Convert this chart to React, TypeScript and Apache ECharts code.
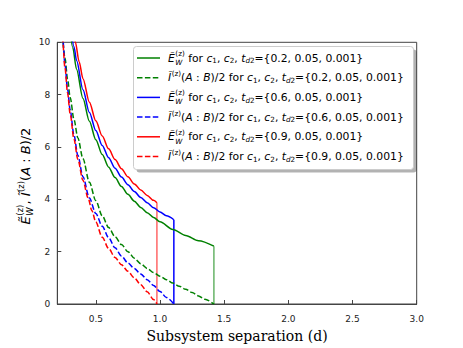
import React, { useEffect, useRef } from 'react';
import * as echarts from 'echarts';

// ---------- data ----------
const xTicks = [0.5, 1.0, 1.5, 2.0, 2.5, 3.0];
const yTicks = [0, 2, 4, 6, 8, 10];
const paramLabels = ['0.2', '0.6', '0.9'];
const colors = ['#008000', '#0000ff', '#ff0000'];

// solid curves: E_W^(z)
const ewC02 = [[0.30, 10.47], [0.32, 9.81], [0.35, 8.97], [0.40, 7.85], [0.45, 6.98], [0.50, 6.28], [0.55, 5.71], [0.60, 5.23], [0.65, 4.83], [0.70, 4.49], [0.75, 4.19], [0.80, 3.93], [0.85, 3.69], [0.90, 3.49], [0.95, 3.31], [1.00, 3.14], [1.10, 2.85], [1.20, 2.62], [1.30, 2.42], [1.42, 2.21]];
const ewC06 = [[0.31, 10.44], [0.33, 9.83], [0.35, 9.30], [0.40, 8.19], [0.45, 7.32], [0.50, 6.63], [0.55, 6.06], [0.60, 5.59], [0.65, 5.19], [0.70, 4.85], [0.75, 4.56], [0.80, 4.30], [0.85, 4.07], [0.90, 3.87], [0.95, 3.68], [1.00, 3.52], [1.05, 3.37], [1.108, 3.22]];
const ewC09 = [[0.32, 10.61], [0.34, 10.02], [0.37, 9.26], [0.40, 8.61], [0.45, 7.71], [0.50, 7.00], [0.55, 6.42], [0.60, 5.93], [0.65, 5.52], [0.70, 5.17], [0.75, 4.86], [0.80, 4.59], [0.85, 4.36], [0.90, 4.15], [0.95, 3.96], [0.976, 3.87]];

// dashed curves: I^(z)(A:B)/2
const iC02 = [[0.24, 10.3], [0.26, 9.4], [0.28, 8.6], [0.30, 7.9], [0.33, 7.05], [0.36, 6.35], [0.40, 5.55], [0.45, 4.65], [0.50, 3.95], [0.55, 3.37], [0.60, 2.92], [0.65, 2.57], [0.70, 2.27], [0.75, 2.0], [0.80, 1.75], [0.85, 1.54], [0.90, 1.36], [0.95, 1.2], [1.00, 1.06], [1.05, 0.93], [1.10, 0.8], [1.15, 0.68], [1.20, 0.56], [1.25, 0.44], [1.30, 0.31], [1.35, 0.18], [1.42, 0.0]];
const iC06 = [[0.235, 10.6], [0.24, 10.3], [0.26, 9.15], [0.28, 8.2], [0.30, 7.42], [0.33, 6.45], [0.36, 5.68], [0.40, 4.86], [0.45, 4.05], [0.50, 3.46], [0.55, 2.97], [0.60, 2.53], [0.65, 2.15], [0.70, 1.83], [0.75, 1.57], [0.80, 1.36], [0.85, 1.15], [0.90, 0.93], [0.95, 0.71], [1.00, 0.48], [1.05, 0.25], [1.108, 0.0]];
const iC09 = [[0.235, 10.5], [0.24, 10.16], [0.26, 9.01], [0.28, 8.06], [0.30, 7.27], [0.33, 6.30], [0.36, 5.53], [0.40, 4.72], [0.44, 4.05], [0.47, 3.56], [0.50, 3.13], [0.55, 2.55], [0.60, 2.12], [0.65, 1.78], [0.70, 1.50], [0.75, 1.25], [0.80, 1.00], [0.85, 0.74], [0.90, 0.47], [0.95, 0.17], [0.976, 0.0]];

const solidSets = [ewC02, ewC06, ewC09];
const dashedSets = [iC02, iC06, iC09];

// ---------- text helpers ----------
const SANS = 'DejaVu Sans';
let mctx: CanvasRenderingContext2D | null = null;
function measure(t: string, size: number, italic: boolean, family: string) {
  if (!mctx) mctx = document.createElement('canvas').getContext('2d');
  mctx!.font = `${italic ? 'italic ' : ''}${size}px "${family}"`;
  return mctx!.measureText(t).width;
}
type Piece = { t: string; s: number; it?: boolean; dy?: number; stack?: boolean; dx?: number };
function mathPieces(pieces: Piece[], family: string, color: string, x0: number) {
  const children: any[] = [];
  let x = 0;
  let pending = 0;
  for (const p of pieces) {
    x += p.dx || 0;
    const w = measure(p.t, p.s, !!p.it, family);
    children.push({
      type: 'text', x: x + x0, y: p.dy || 0, silent: true,
      style: {
        text: p.t, fontSize: p.s, fontFamily: family, fontStyle: p.it ? 'italic' : 'normal',
        fill: color, textAlign: 'left', verticalAlign: 'middle', textVerticalAlign: 'middle',
      },
    });
    if (p.stack) pending = Math.max(pending, w);
    else { x += Math.max(w, pending); pending = 0; }
  }
  return { children, width: x };
}
const FS = 10.8;
const SS = 7.2;
function tail(p: string): Piece[] {
  return [
    { t: ' for ', s: FS },
    { t: 'c', s: FS, it: true }, { t: '1', s: SS, dy: 2.7 },
    { t: ', ', s: FS },
    { t: 'c', s: FS, it: true }, { t: '2', s: SS, dy: 2.7 },
    { t: ', ', s: FS },
    { t: 't', s: FS, it: true }, { t: 'd', s: SS, it: true, dy: 2.7 }, { t: '2', s: SS, dy: 2.7 },
    { t: '={' + p + ', 0.05, 0.001}', s: FS },
  ];
}
function solidLabel(p: string): Piece[] {
  return [
    { t: 'Ẽ', s: FS, it: true },
    { t: '(z)', s: SS, dy: -4.6, stack: true, dx: 0.5 },
    { t: 'W', s: SS, it: true, dy: 4.4 },
    ...tail(p),
  ];
}
function dashedLabel(p: string): Piece[] {
  return [
    { t: 'Ĩ', s: FS, it: true },
    { t: '(z)', s: SS, dy: -3.8, dx: 0.5 },
    { t: '(', s: FS }, { t: 'A', s: FS, it: true }, { t: ' : ', s: FS }, { t: 'B', s: FS, it: true }, { t: ')/2', s: FS },
    ...tail(p),
  ];
}

const DASH = [5.5, 2.4];

export default function App() {
  const ref = useRef<HTMLDivElement>(null);
  useEffect(() => {
    if (!ref.current) return;
    const chart = echarts.init(ref.current, null, { renderer: 'svg' });

    const series: any[] = [];
    for (let k = 0; k < 3; k++) {
      series.push({
        type: 'line', data: solidSets[k], showSymbol: false, symbol: 'none', smooth: 0.3, smoothMonotone: 'x',
        clip: true, lineStyle: { color: colors[k], width: 1.5, type: 'solid' }, z: 3,
      });
      series.push({
        type: 'line', data: dashedSets[k], showSymbol: false, symbol: 'none', smooth: 0.3, smoothMonotone: 'x',
        clip: true, lineStyle: { color: colors[k], width: 1.5, type: DASH }, z: 3,
      });
      const last = solidSets[k][solidSets[k].length - 1];
      series.push({
        type: 'line', data: [[last[0], last[1]], [last[0], 0]], showSymbol: false, symbol: 'none',
        clip: true, lineStyle: { color: colors[k], width: 1.5, opacity: k === 1 ? 1 : 0.6 }, z: 2,
      });
    }

    // legend drawn as graphic
    const lx = 133.5, ly = 46.5, lw = 280, lh = 123;
    const legendChildren: any[] = [
      { type: 'rect', shape: { x: lx + 3, y: ly + 3, width: lw, height: lh, r: 3 }, style: { fill: 'rgba(0,0,0,0.3)' }, silent: true },
      { type: 'rect', shape: { x: lx, y: ly, width: lw, height: lh, r: 3 }, style: { fill: '#ffffff', stroke: '#cccccc', lineWidth: 1 }, silent: true },
    ];
    for (let k = 0; k < 3; k++) {
      for (let j = 0; j < 2; j++) {
        const row = k * 2 + j;
        const y = 58 + row * 19.7;
        legendChildren.push({
          type: 'line', shape: { x1: 137, y1: y, x2: 160, y2: y }, silent: true,
          style: { stroke: colors[k], lineWidth: 1.5, lineDash: j === 0 ? null : DASH },
        });
        const m = mathPieces(j === 0 ? solidLabel(paramLabels[k]) : dashedLabel(paramLabels[k]), SANS, '#000', 168);
        legendChildren.push({ type: 'group', x: 0, y, children: m.children, silent: true });
      }
    }

    const yl = mathPieces([
      { t: 'Ẽ', s: 13, it: true },
      { t: '(z)', s: 8.5, dy: -5.4, stack: true, dx: 0.5 },
      { t: 'W', s: 8.5, it: true, dy: 5.2 },
      { t: ', ', s: 13 },
      { t: 'Ĩ', s: 13, it: true },
      { t: '(z)', s: 8.5, dy: -4.5, dx: 0.5 },
      { t: '(', s: 13 }, { t: 'A', s: 13, it: true }, { t: ' : ', s: 13 }, { t: 'B', s: 13, it: true }, { t: ')/2', s: 13 },
    ], SANS, '#000', 0);
    yl.children.forEach((c: any) => { c.x -= yl.width / 2; });

    chart.setOption({
      animation: false,
      grid: { left: 57.3, right: 46.3, top: 42.3, bottom: 38.7, show: true, borderColor: '#444', borderWidth: 1, backgroundColor: 'transparent' },
      xAxis: {
        type: 'value', min: 0.2, max: 3.0,
        name: 'Subsystem separation (d)', nameLocation: 'middle', nameGap: 25,
        nameTextStyle: { fontFamily: 'DejaVu Serif', fontSize: 14, color: '#000' },
        axisLine: { show: true, lineStyle: { color: '#444', width: 1 } },
        axisTick: { show: true, inside: true, length: 4, customValues: xTicks, lineStyle: { color: '#444' } },
        axisLabel: { customValues: xTicks, formatter: (v: number) => v.toFixed(1), fontFamily: SANS, fontSize: 9, color: '#222', margin: 10 },
        splitLine: { show: false },
      },
      yAxis: {
        type: 'value', min: 0, max: 10, interval: 2,
        axisLine: { show: true, lineStyle: { color: '#444', width: 1 } },
        axisTick: { show: true, inside: true, length: 4, customValues: yTicks, lineStyle: { color: '#444' } },
        axisLabel: { customValues: yTicks, fontFamily: SANS, fontSize: 9, color: '#222', margin: 7 },
        splitLine: { show: false },
      },
      series,
      graphic: [
        { type: 'group', children: legendChildren, z: 100 },
        { type: 'group', x: 25, y: 176, rotation: Math.PI / 2, children: yl.children, z: 100 },
      ],
    });
    return () => chart.dispose();
  }, []);
  return <div ref={ref} style={{ position: 'fixed', left: 0, top: 0, width: 463, height: 348, background: '#fff' }} />;
}
